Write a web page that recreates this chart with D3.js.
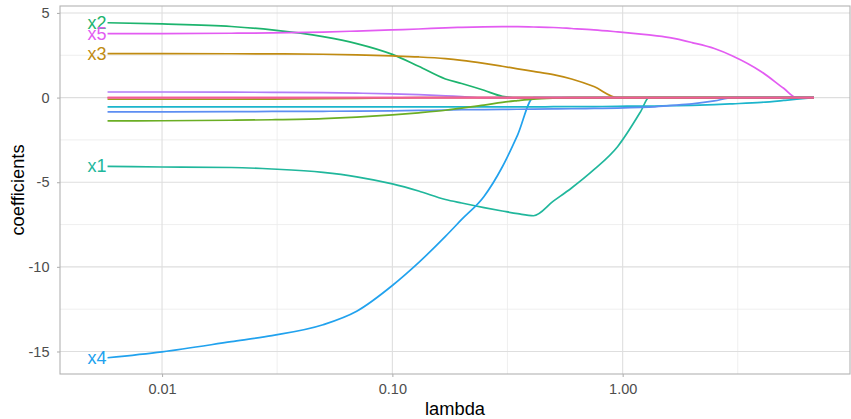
<!DOCTYPE html>
<html>
<head>
<meta charset="utf-8">
<script src="https://cdn.jsdelivr.net/npm/d3@7"></script>
<style>
  body { margin: 0; background: #fff; }
  svg { display: block; font-family: "Liberation Sans", Arial, sans-serif; }
</style>
</head>
<body>
<div id="chart"></div>
<script>
// lasso path: coefficient per lambda
const lambda = [0.0058, 0.01, 0.02, 0.03, 0.05, 0.07, 0.1, 0.13, 0.17, 0.2, 0.25, 0.3, 0.35, 0.41,
                0.5, 0.6, 0.75, 0.95, 1.2, 1.3, 1.6, 2, 2.5, 3, 4, 5, 5.7, 6.77];

const x1 = [-4.07, -4.1, -4.13, -4.22, -4.42, -4.68, -5.1, -5.52, -6.02, -6.23, -6.5, -6.7, -6.86, -6.98,
            -6.12, -5.34, -4.26, -2.9, -0.8, 0, 0, 0, 0, 0, 0, 0, 0, 0];
const x2 = [4.42, 4.35, 4.2, 4.0, 3.6, 3.19, 2.55, 1.85, 1.1, 0.83, 0.43, 0.08, 0, 0,
            0, 0, 0, 0, 0, 0, 0, 0, 0, 0, 0, 0, 0, 0];
const x3 = [2.6, 2.6, 2.59, 2.58, 2.56, 2.52, 2.46, 2.4, 2.3, 2.2, 2.02, 1.85, 1.7, 1.55,
            1.36, 1.1, 0.65, 0, 0, 0, 0, 0, 0, 0, 0, 0, 0, 0];
const x4 = [-15.37, -15.02, -14.42, -14.06, -13.42, -12.62, -11.1, -9.75, -8.2, -7.2, -5.84, -4.1, -2.2, 0,
            0, 0, 0, 0, 0, 0, 0, 0, 0, 0, 0, 0, 0, 0];
const x5 = [3.78, 3.78, 3.8, 3.82, 3.87, 3.93, 4.0, 4.05, 4.12, 4.15, 4.18, 4.19, 4.19, 4.17,
            4.14, 4.08, 4.0, 3.88, 3.75, 3.7, 3.54, 3.25, 2.9, 2.46, 1.53, 0.55, 0, 0];
const x6 = [0.33, 0.33, 0.32, 0.31, 0.29, 0.26, 0.22, 0.17, 0.1, 0.06, 0, 0, 0, 0,
            0, 0, 0, 0, 0, 0, 0, 0, 0, 0, 0, 0, 0, 0];
const x7 = [-0.1, -0.1, -0.1, -0.09, -0.07, -0.05, -0.02, 0, 0, 0, 0, 0, 0, 0,
            0, 0, 0, 0, 0, 0, 0, 0, 0, 0, 0, 0, 0, 0];
const x8 = [-0.55, -0.55, -0.55, -0.55, -0.55, -0.55, -0.55, -0.55, -0.55, -0.55, -0.55, -0.55, -0.55, -0.55,
            -0.54, -0.54, -0.53, -0.52, -0.5, -0.5, -0.48, -0.46, -0.42, -0.37, -0.28, -0.17, -0.1, 0];
const x9 = [-0.85, -0.84, -0.83, -0.82, -0.81, -0.8, -0.78, -0.76, -0.74, -0.72, -0.71, -0.7, -0.69, -0.68,
            -0.67, -0.66, -0.64, -0.62, -0.58, -0.56, -0.47, -0.37, -0.2, 0, 0, 0, 0, 0];
const x10 = [-1.38, -1.37, -1.34, -1.31, -1.24, -1.15, -1.02, -0.9, -0.75, -0.62, -0.45, -0.28, -0.18, -0.09,
             -0.03, 0, 0, 0, 0, 0, 0, 0, 0, 0, 0, 0, 0, 0];
const x11 = [0, 0, 0, 0, 0, 0, 0, 0, 0, 0, 0, 0, 0, 0, 0, 0, 0, 0, 0, 0, 0, 0, 0, 0, 0, 0, 0, 0];
const x12 = [0, 0, 0, 0, 0, 0, 0, 0, 0, 0, 0, 0, 0, 0, 0, 0, 0, 0, 0, 0, 0, 0, 0, 0, 0, 0, 0, 0];

const seriesNames = ['x1', 'x2', 'x3', 'x4', 'x5', 'x6', 'x7', 'x8', 'x9', 'x10', 'x11', 'x12'];
const seriesValues = [x1, x2, x3, x4, x5, x6, x7, x8, x9, x10, x11, x12];
const seriesColors = ['#20B79C', '#1DB46E', '#C08B12', '#21A2EE', '#E35CF2', '#B07CF8',
                      '#A09E1D', '#1CB5CC', '#5D8EF2', '#6BAE24', '#F0508A', '#F45C98'];
const labelled = ['x1', 'x2', 'x3', 'x4', 'x5'];

// axis breaks
const xBreaks = [0.01, 0.1, 1];
const xMinorBreaks = [0.0316, 0.316, 3.16];
const xTickLabels = ['0.01', '0.10', '1.00'];
const yBreaks = [-15, -10, -5, 0, 5];
const yMinorBreaks = [-12.5, -7.5, -2.5, 2.5];

const width = 851;
const height = 419;
const panel = { left: 60, right: 850, top: 6, bottom: 374 };

const svg = d3.select('#chart')
  .append('svg')
  .attr('width', width)
  .attr('height', height);

const x = d3.scaleLog()
  .domain([Math.pow(10, -2.443), Math.pow(10, 0.987)])
  .range([panel.left, panel.right]);

const y = d3.scaleLinear()
  .domain([-16.33, 5.41])
  .range([panel.bottom, panel.top]);

// grid lines
const grid = svg.append('g');
grid.selectAll('.xminor').data(xMinorBreaks).enter().append('line')
  .attr('x1', d => x(d)).attr('x2', d => x(d))
  .attr('y1', panel.top).attr('y2', panel.bottom)
  .attr('stroke', '#EBEBEB').attr('stroke-width', 0.8);
grid.selectAll('.yminor').data(yMinorBreaks).enter().append('line')
  .attr('x1', panel.left).attr('x2', panel.right)
  .attr('y1', d => y(d)).attr('y2', d => y(d))
  .attr('stroke', '#EBEBEB').attr('stroke-width', 0.8);
grid.selectAll('.xmajor').data(xBreaks).enter().append('line')
  .attr('x1', d => x(d)).attr('x2', d => x(d))
  .attr('y1', panel.top).attr('y2', panel.bottom)
  .attr('stroke', '#DEDEDE').attr('stroke-width', 1.1);
grid.selectAll('.ymajor').data(yBreaks).enter().append('line')
  .attr('x1', panel.left).attr('x2', panel.right)
  .attr('y1', d => y(d)).attr('y2', d => y(d))
  .attr('stroke', '#DEDEDE').attr('stroke-width', 1.1);

// coefficient paths
const line = d3.line()
  .x((d, i) => x(lambda[i]))
  .y(d => y(d))
  .curve(d3.curveMonotoneX);

svg.append('g').selectAll('path')
  .data(seriesValues)
  .enter().append('path')
  .attr('d', d => line(d))
  .attr('fill', 'none')
  .attr('stroke', (d, i) => seriesColors[i])
  .attr('stroke-width', 1.7);

// variable labels at the start of each path
svg.append('g').selectAll('text')
  .data(labelled)
  .enter().append('text')
  .attr('x', x(lambda[0]) - 1)
  .attr('y', d => y(seriesValues[seriesNames.indexOf(d)][0]))
  .attr('text-anchor', 'end')
  .attr('dominant-baseline', 'central')
  .attr('font-size', 18)
  .attr('fill', d => seriesColors[seriesNames.indexOf(d)])
  .text(d => d);

// panel border
svg.append('rect')
  .attr('x', panel.left).attr('y', panel.top)
  .attr('width', panel.right - panel.left)
  .attr('height', panel.bottom - panel.top)
  .attr('fill', 'none')
  .attr('stroke', '#B3B3B3')
  .attr('stroke-width', 1.1);

// axes
const xAxis = svg.append('g')
  .attr('transform', 'translate(0,' + panel.bottom + ')')
  .call(d3.axisBottom(x).tickValues(xBreaks)
    .tickFormat((d, i) => xTickLabels[i])
    .tickSize(3).tickPadding(6.5).tickSizeOuter(0));

const yAxis = svg.append('g')
  .attr('transform', 'translate(' + panel.left + ',0)')
  .call(d3.axisLeft(y).tickValues(yBreaks)
    .tickFormat(d => String(d))
    .tickSize(3).tickPadding(7.5).tickSizeOuter(0));

[xAxis, yAxis].forEach(ax => {
  ax.select('.domain').remove();
  ax.selectAll('line').attr('stroke', '#B3B3B3').attr('stroke-width', 1.1);
  ax.selectAll('text')
    .attr('fill', '#4D4D4D')
    .attr('font-size', 14.5)
    .attr('font-family', '"Liberation Sans", Arial, sans-serif');
});

// axis titles
svg.append('text')
  .attr('x', (panel.left + panel.right) / 2)
  .attr('y', 415)
  .attr('text-anchor', 'middle')
  .attr('font-size', 18.3)
  .attr('fill', '#000')
  .text('lambda');

svg.append('text')
  .attr('transform', 'translate(23.5,' + (panel.top + panel.bottom) / 2 + ') rotate(-90)')
  .attr('text-anchor', 'middle')
  .attr('font-size', 18.3)
  .attr('fill', '#000')
  .text('coefficients');
</script>
</body>
</html>
